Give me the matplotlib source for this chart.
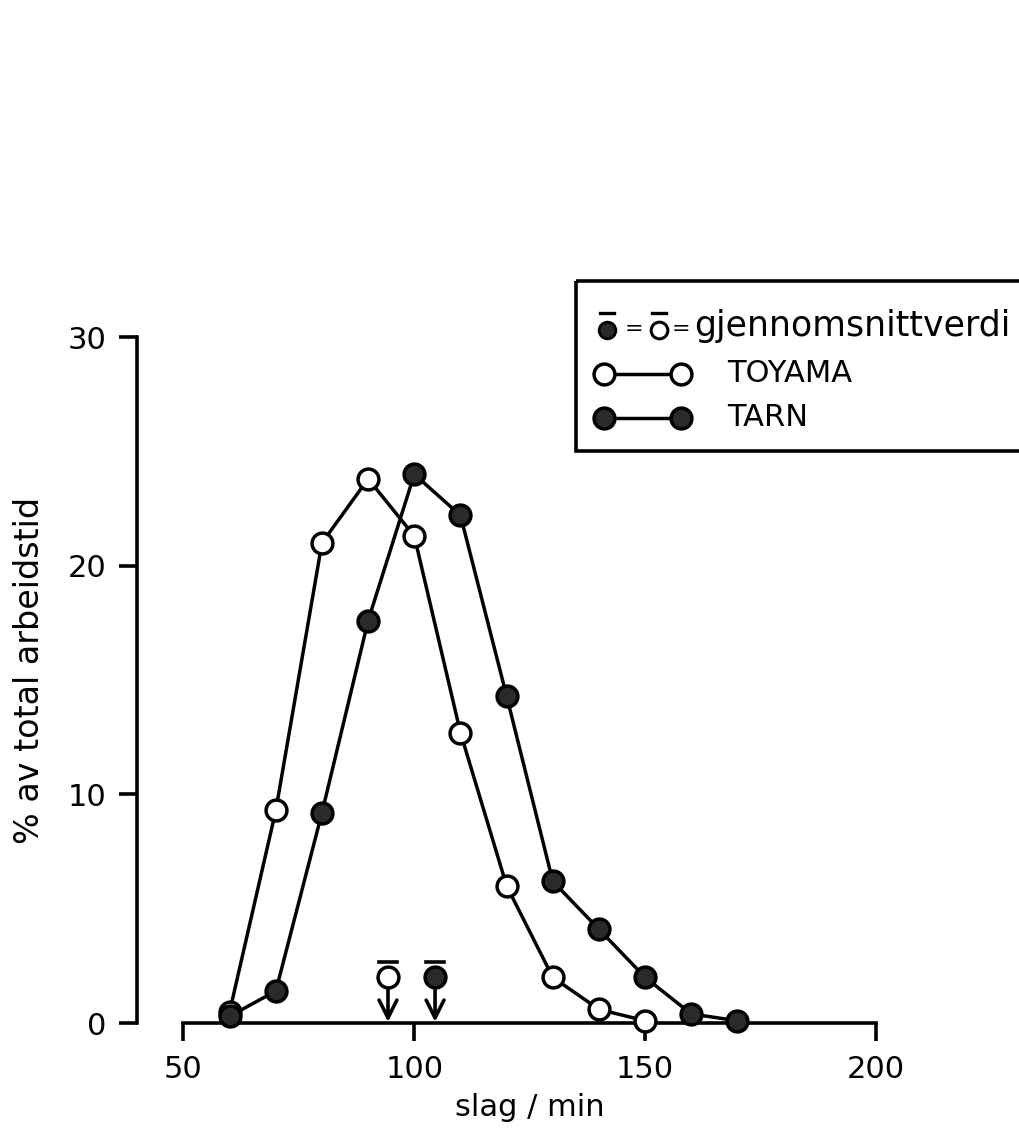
import numpy as np
import matplotlib
matplotlib.use('Agg')
import matplotlib.pyplot as plt
from matplotlib.patches import Rectangle

# slag/min classes and % of total working time
slag = [60, 70, 80, 90, 100, 110, 120, 130, 140, 150, 160, 170]
toyama = [0.5, 9.3, 21.0, 23.8, 21.3, 12.7, 6.0, 2.0, 0.6, 0.1]
tarn = [0.3, 1.4, 9.2, 17.6, 24.0, 22.2, 14.3, 6.2, 4.1, 2.0, 0.4, 0.1]

# mean values (gjennomsnittverdi)
mean_toyama = 94.3
mean_tarn = 104.5
mean_level = 2.0

xticks = [50, 100, 150, 200]
yticks = [0, 10, 20, 30]

plt.rcParams['font.family'] = ['DejaVu Sans']
W, H = 1019, 1139
fig = plt.figure(figsize=(W / 100, H / 100), dpi=100)

ax = fig.add_axes([0.1257, 0.0817, 0.8245, 0.6826])
ax.set_xlim(38, 220)
ax.set_ylim(-1, 33)

lw = 2.5
ms = 15
dark = '#2a2a2a'
ax.plot(slag[:len(toyama)], toyama, color='black', lw=lw, marker='o', ms=ms,
        mfc='white', mec='black', mew=lw, clip_on=False, zorder=3)
ax.plot(slag, tarn, color='black', lw=lw, marker='o', ms=ms,
        mfc=dark, mec='black', mew=lw, clip_on=False, zorder=4)

# mean markers with arrows
for m, face in [(mean_toyama, 'white'), (mean_tarn, dark)]:
    ax.annotate('', xy=(m, 0.05), xytext=(m, mean_level - 0.4),
                arrowprops=dict(arrowstyle='->', lw=2.6, color='black',
                                mutation_scale=32, shrinkA=0, shrinkB=0))
    ax.plot([m], [mean_level], marker='o', ms=ms, mfc=face, mec='black',
            mew=lw, zorder=5, clip_on=False)
    ax.plot([m - 2.0, m + 2.0], [mean_level + 0.68] * 2, color='black', lw=2.6)

for s in ['top', 'right']:
    ax.spines[s].set_visible(False)
ax.spines['left'].set_position(('data', 40))
ax.spines['left'].set_bounds(0, 30)
ax.spines['bottom'].set_position(('data', 0))
ax.spines['bottom'].set_bounds(50, 200)
for s in ['left', 'bottom']:
    ax.spines[s].set_linewidth(2.6)

ax.set_xticks(xticks)
ax.set_yticks(yticks)
ax.tick_params(axis='both', direction='out', length=13, width=2.6, labelsize=22)
ax.tick_params(axis='y', pad=9)
ax.tick_params(axis='x', pad=10)

fig.text(530 / W, 1 - 1108 / H, 'slag / min', fontsize=22, ha='center', va='center')
fig.text(30 / W, 1 - 670 / H, '% av total arbeidstid', fontsize=24,
         rotation=90, ha='center', va='center')

# legend box in pixel coordinates
lg = fig.add_axes([0, 0, 1, 1])
lg.set_xlim(0, W)
lg.set_ylim(H, 0)
lg.axis('off')
lg.add_patch(Rectangle((576, 281), 460, 170, fill=False, lw=2.6, ec='black'))

# row 1
lg.plot([607], [330], marker='o', ms=12, mfc=dark, mec='black', mew=2)
lg.plot([600, 614], [313, 313], color='black', lw=2.4)
lg.text(634, 329, '=', fontsize=16, ha='center', va='center')
lg.plot([659], [330], marker='o', ms=12, mfc='white', mec='black', mew=2.2)
lg.plot([652, 666], [313, 313], color='black', lw=2.4)
lg.text(681, 329, '=', fontsize=16, ha='center', va='center')
lg.text(694, 326, 'gjennomsnittverdi', fontsize=25, ha='left', va='center')

# rows 2 and 3
lg.plot([604, 681], [374, 374], color='black', lw=lw, marker='o', ms=15,
        mfc='white', mec='black', mew=lw)
lg.text(727, 374, 'TOYAMA', fontsize=22, ha='left', va='center')
lg.plot([604, 681], [418, 418], color='black', lw=lw, marker='o', ms=15,
        mfc=dark, mec='black', mew=lw)
lg.text(727, 418, 'TARN', fontsize=22, ha='left', va='center')

fig.savefig('out.png', dpi=100, facecolor='white')
